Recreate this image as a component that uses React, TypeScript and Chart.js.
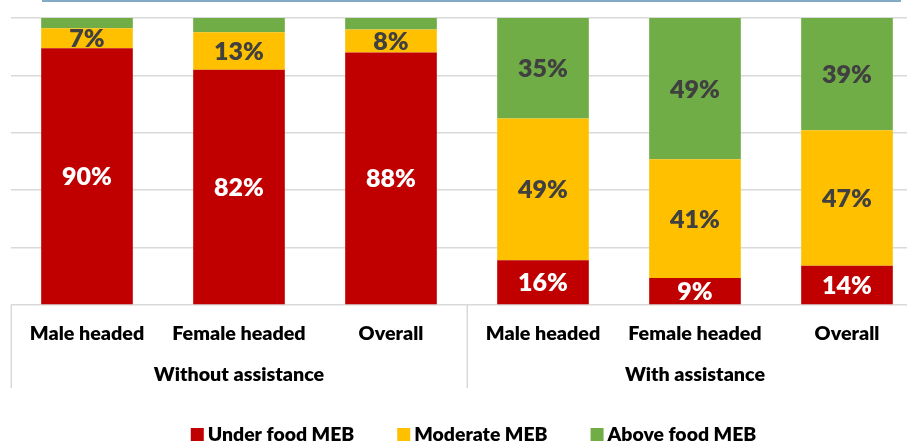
import React, { useEffect, useRef } from "react";
import { Chart, registerables } from "chart.js";

Chart.register(...registerables);

const categories = ["Male headed", "Female headed", "Overall", "Male headed", "Female headed", "Overall"];
const groups = ["Without assistance", "With assistance"];
const groupSizes = [3, 3];
const seriesNames = ["Under food MEB", "Moderate MEB", "Above food MEB"];
const underFoodMEB = [89.5, 82, 88, 15.6, 9.4, 13.7];
const moderateMEB = [6.9, 13, 8, 49.4, 41.4, 47.2];
const aboveFoodMEB = [3.6, 5, 4, 35, 49.2, 39.1];
const seriesColors = ["#C00000", "#FFC000", "#70AD47"];
const labelColors = ["#FFFFFF", "#404040", "#404040"];
const yMax = 100;
const yStep = 20;
const minLabelValue = 6;

const FONT = "Lato, 'Open Sans', sans-serif";
const WEIGHT = 800;
const DATA_FONT_SIZE = 25;
const CAT_FONT_SIZE = 19.7;
const LEGEND_FONT_SIZE = 19.4;

const overlayPlugin = {
  id: "overlay",
  afterDatasetsDraw(chart: any) {
    const ctx = chart.ctx as CanvasRenderingContext2D;
    ctx.save();
    ctx.font = `${WEIGHT} ${DATA_FONT_SIZE}px ${FONT}`;
    ctx.textAlign = "center";
    ctx.textBaseline = "alphabetic";
    chart.data.datasets.forEach((ds: any, di: number) => {
      const meta = chart.getDatasetMeta(di);
      meta.data.forEach((el: any, i: number) => {
        const v = ds.data[i] as number;
        if (v < minLabelValue) return;
        const { x, y, base } = el.getProps(["x", "y", "base"], true);
        const cy = (y + base) / 2;
        ctx.fillStyle = labelColors[di];
        ctx.fillText(Math.round(v) + "%", x, cy + 0.36 * DATA_FONT_SIZE);
      });
    });
    ctx.restore();
  },
  afterDraw(chart: any) {
    const ctx = chart.ctx as CanvasRenderingContext2D;
    const area = chart.chartArea;
    const xs = chart.scales.x;
    const n = categories.length;
    const catW = (area.right - area.left) / n;
    ctx.save();

    // top border line
    ctx.fillStyle = "#84abc6";
    ctx.fillRect(42, 0, 859, 2);

    // category labels
    ctx.font = `${WEIGHT} ${CAT_FONT_SIZE}px ${FONT}`;
    ctx.fillStyle = "#000000";
    ctx.textAlign = "center";
    ctx.textBaseline = "alphabetic";
    categories.forEach((c, i) => {
      ctx.fillText(c, xs.getPixelForValue(i), area.bottom + 35);
    });

    // group separators and labels
    ctx.strokeStyle = "#d9d9d9";
    ctx.lineWidth = 1.5;
    let start = 0;
    const sepTop = area.bottom;
    const sepBottom = area.bottom + 83;
    const drawSep = (x: number) => {
      ctx.beginPath();
      ctx.moveTo(x, sepTop);
      ctx.lineTo(x, sepBottom);
      ctx.stroke();
    };
    drawSep(Math.round(area.left) + 0.25);
    groups.forEach((g, gi) => {
      const x0 = area.left + start * catW;
      const x1 = area.left + (start + groupSizes[gi]) * catW;
      ctx.fillText(g, (x0 + x1) / 2, area.bottom + 76);
      drawSep(Math.round(x1) + 0.25);
      start += groupSizes[gi];
    });

    // legend
    ctx.font = `${WEIGHT} ${LEGEND_FONT_SIZE}px ${FONT}`;
    ctx.textAlign = "left";
    const box = 13;
    const boxGap = 4;
    const itemGap = 43;
    const widths = seriesNames.map((s) => box + boxGap + ctx.measureText(s).width);
    const total = widths.reduce((a, b) => a + b, 0) + itemGap * (seriesNames.length - 1);
    let lx = 473.5 - total / 2;
    const baseY = 441;
    seriesNames.forEach((s, i) => {
      ctx.fillStyle = seriesColors[i];
      ctx.fillRect(lx, baseY - 13, box, box);
      ctx.fillStyle = "#000000";
      ctx.fillText(s, lx + box + boxGap, baseY);
      lx += widths[i] + itemGap;
    });
    ctx.restore();
  },
};

export default function App() {
  const ref = useRef<HTMLCanvasElement>(null);
  useEffect(() => {
    if (!ref.current) return;
    const chart = new Chart(ref.current, {
      type: "bar",
      data: {
        labels: categories,
        datasets: [underFoodMEB, moderateMEB, aboveFoodMEB].map((d, i) => ({
          label: seriesNames[i],
          data: d,
          backgroundColor: seriesColors[i],
          borderWidth: 0,
          barPercentage: 0.603,
          categoryPercentage: 1,
        })),
      },
      options: {
        responsive: false,
        animation: false,
        devicePixelRatio: 1,
        layout: { padding: { left: 11, right: 7, top: 18, bottom: 136 } },
        plugins: { legend: { display: false }, tooltip: { enabled: false } },
        scales: {
          x: { stacked: true, display: false },
          y: {
            stacked: true,
            min: 0,
            max: yMax,
            ticks: { display: false, stepSize: yStep },
            grid: { color: "#d9d9d9", lineWidth: 1.5, drawTicks: false },
            border: { display: false },
          },
        },
      },
      plugins: [overlayPlugin],
    } as any);
    return () => chart.destroy();
  }, []);
  return (
    <div
      style={{
        position: "fixed",
        left: 0,
        top: 0,
        width: 907,
        height: 441,
        overflow: "hidden",
        background: "#ffffff",
      }}
    >
      <canvas ref={ref} width={930} height={441} style={{ display: "block", width: 930, height: 441 }} />
    </div>
  );
}
